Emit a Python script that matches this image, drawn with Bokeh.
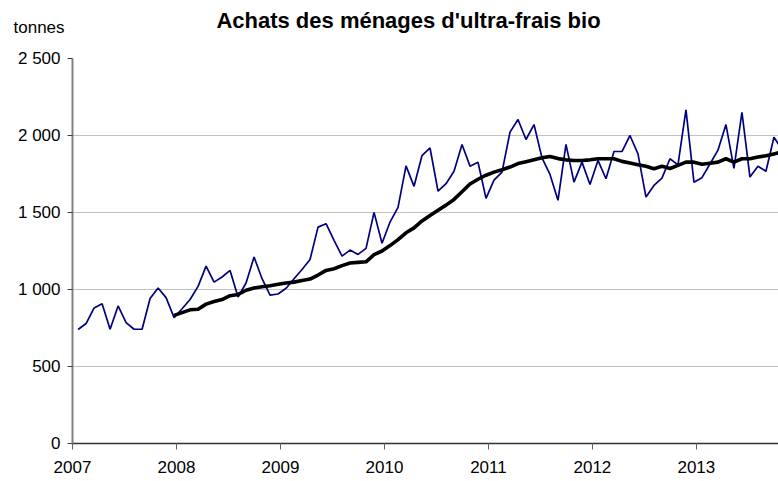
from bokeh.plotting import figure
from bokeh.models import Range1d, FixedTicker, Label
from bokeh.embed import file_html
from bokeh.resources import INLINE

# Achats par périodes de 4 semaines (13 périodes par an), en tonnes
annees = [2007, 2008, 2009, 2010, 2011, 2012, 2013]
periodes_par_an = 13

achats = [
    740, 779, 880, 908, 742, 893, 785, 742, 742, 941, 1010, 947, 817,
    875, 935, 1020, 1152, 1048, 1081, 1124, 951, 1042, 1211, 1070, 963, 971,
    1008, 1070, 1130, 1195, 1405, 1427, 1319, 1217, 1256, 1228, 1267, 1501, 1300,
    1438, 1533, 1803, 1670, 1870, 1919, 1639, 1687, 1768, 1942, 1801, 1826, 1592,
    1710, 1762, 2022, 2104, 1974, 2071, 1855, 1747, 1579, 1942, 1697, 1827, 1682,
    1838, 1719, 1896, 1896, 2000, 1881, 1600, 1676, 1723, 1849, 1809, 2167, 1697,
    1726, 1815, 1905, 2071, 1787, 2151, 1730, 1800, 1768, 1989, 1910,
]

# Cumul annuel mobile (moyenne sur 13 périodes), à partir de la 13e période
moyenne_mobile = [
    832, 850, 868, 872, 905, 922, 935, 960, 968, 995, 1010, 1018, 1024,
    1034, 1042, 1048, 1058, 1068, 1094, 1124, 1135, 1155, 1172, 1176, 1180,
    1226, 1250, 1285, 1324, 1368, 1400, 1445, 1481, 1515, 1548, 1585, 1635,
    1685, 1716, 1742, 1762, 1778, 1795, 1818, 1830, 1843, 1856, 1864, 1850,
    1842, 1838, 1838, 1842, 1849, 1849, 1849, 1832, 1822, 1810, 1800, 1784,
    1800, 1786, 1806, 1827, 1827, 1813, 1820, 1827, 1849, 1827, 1849, 1849,
    1860, 1868, 1880, 1893,
]

y_ticks = [0, 500, 1000, 1500, 2000, 2500]
y_tick_labels = ["0", "500", "1 000", "1 500", "2 000", "2 500"]
x_tick_labels = [str(a) for a in annees]

titre = "Achats des ménages d'ultra-frais bio"
unite = "tonnes"

# position temporelle de chaque période
x_all = [a + (k - 0.3) / periodes_par_an for a in annees for k in range(1, periodes_par_an + 1)]
x_achats = x_all[:len(achats)]
debut_mm = len(achats) - len(moyenne_mobile)
x_mm = x_all[debut_mm:len(achats)]

FONT = "Liberation Sans"

# géométrie du cadre (pixels de la page)
W, H = 778, 481
LEFT, TOP, BOTTOM = 72, 58, 38
X0, X1 = 2007, 2013.79
Y0, Y1 = 0, 2500


def px_to_x(px):
    return X0 + (px - LEFT) / (W - LEFT) * (X1 - X0)


def py_to_y(py):
    return Y0 + (H - BOTTOM - py) / (H - BOTTOM - TOP) * (Y1 - Y0)


p = figure(
    width=W, height=H,
    x_range=Range1d(X0, X1), y_range=Range1d(Y0, Y1),
    output_backend="svg", toolbar_location=None,
    min_border_left=LEFT, min_border_right=0, min_border_top=TOP, min_border_bottom=BOTTOM,
)
p.background_fill_color = "white"
p.border_fill_color = "white"
p.outline_line_color = None

p.line(x_achats, achats, line_color="#000080", line_width=1.7)
p.line(x_mm, moyenne_mobile, line_color="black", line_width=3.6, line_join="round")

# axes
p.xgrid.grid_line_color = None
p.ygrid.grid_line_color = "#c0c0c0"
p.ygrid.grid_line_width = 1
p.ygrid.ticker = FixedTicker(ticks=y_ticks)

p.yaxis.ticker = FixedTicker(ticks=y_ticks)
p.yaxis.major_label_overrides = {t: l for t, l in zip(y_ticks, y_tick_labels)}
p.yaxis.axis_line_color = "#808080"
p.yaxis.axis_line_width = 2
p.yaxis.major_tick_line_color = "#404040"
p.yaxis.major_tick_in = 0
p.yaxis.major_tick_out = 5
p.yaxis.minor_tick_line_color = None
p.yaxis.major_label_standoff = 7
p.yaxis.major_label_text_font = FONT
p.yaxis.major_label_text_font_size = "17px"
p.yaxis.major_label_text_color = "black"

p.xaxis.ticker = FixedTicker(ticks=annees)
p.xaxis.major_label_overrides = {a: l for a, l in zip(annees, x_tick_labels)}
p.xaxis.axis_line_color = "#303030"
p.xaxis.axis_line_width = 1.3
p.xaxis.major_tick_line_color = "#606060"
p.xaxis.major_tick_in = 0
p.xaxis.major_tick_out = 6
p.xaxis.minor_tick_line_color = None
p.xaxis.major_label_standoff = 11
p.xaxis.major_label_text_font = FONT
p.xaxis.major_label_text_font_size = "17px"
p.xaxis.major_label_text_color = "black"

# titre et unité, dans le panneau supérieur (hors du cadre, non rognés)
p.add_layout(Label(x=px_to_x(408), y=py_to_y(20), text=titre,
                   text_font=FONT, text_font_size="22px", text_font_style="bold",
                   text_align="center", text_baseline="alphabetic", text_color="black"), "above")
p.add_layout(Label(x=px_to_x(13), y=py_to_y(27), text=unite,
                   text_font=FONT, text_font_size="17px",
                   text_align="left", text_baseline="alphabetic", text_color="black"), "above")

open("out.html", "w").write(file_html(p, INLINE))
